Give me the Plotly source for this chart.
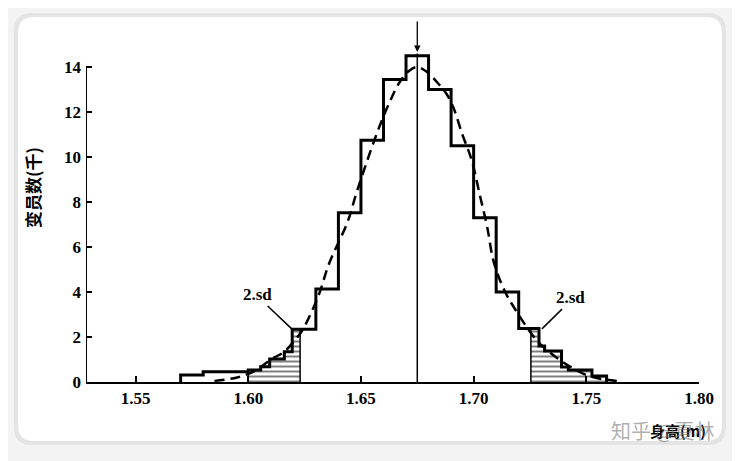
import plotly.graph_objects as go

# histogram outline: bin edges (m) and heights (thousands)
bin_edges = [1.570, 1.580, 1.600, 1.6055, 1.6095, 1.616, 1.6195, 1.630, 1.640,
             1.650, 1.660, 1.670, 1.680, 1.690, 1.700, 1.710, 1.720, 1.729,
             1.7315, 1.739, 1.742, 1.7525, 1.759]
bin_heights = [0.31, 0.46, 0.53, 0.68, 1.02, 1.35, 2.34, 4.13, 7.52, 10.75,
               13.45, 14.5, 13.0, 10.5, 7.3, 4.0, 2.38, 1.6, 1.38, 0.67, 0.53,
               0.27]

# shaded tails beyond 2 sd
low_cut = 1.623
low_start = 1.600
high_cut = 1.7254

# dashed normal curve
curve_x = [1.585, 1.595, 1.603, 1.610, 1.616, 1.621, 1.624, 1.631, 1.636,
           1.644, 1.648, 1.653, 1.658, 1.663, 1.667, 1.671, 1.675, 1.679,
           1.684, 1.688, 1.691, 1.695, 1.699, 1.703, 1.706, 1.709, 1.714,
           1.718, 1.726, 1.731, 1.737, 1.743, 1.750, 1.757, 1.765]
curve_y = [0.05, 0.2, 0.5, 1.0, 1.35, 1.9, 2.3, 3.8, 5.3, 7.1, 8.4, 9.9,
           11.3, 12.5, 13.3, 13.8, 14.0, 13.8, 13.3, 12.8, 12.2, 11.0, 9.9,
           8.2, 6.9, 5.3, 4.0, 3.3, 2.1, 1.55, 1.07, 0.67, 0.31, 0.13, 0.03]

mean_height = 1.675
x_ticks = [1.55, 1.60, 1.65, 1.70, 1.75, 1.80]
y_ticks = [0, 2, 4, 6, 8, 10, 12, 14]

# the page puts the figure 8px in from the top-left corner
OFF = 8
W, H = 740, 461
L, R, T, B = 86 - OFF, 41 + OFF, 49 - OFF, 79 + OFF
PW, PH = W - L - R, H - T - B


def paper(xp, yp):
    return (xp - OFF - L) / PW, (H - B - (yp - OFF)) / PH


def rounded_rect(x0, y0, x1, y1, r):
    pts = []
    pts.append("M %f,%f" % paper(x0 + r, y0))
    pts.append("L %f,%f" % paper(x1 - r, y0))
    pts.append("Q %f,%f %f,%f" % (paper(x1, y0) + paper(x1, y0 + r)))
    pts.append("L %f,%f" % paper(x1, y1 - r))
    pts.append("Q %f,%f %f,%f" % (paper(x1, y1) + paper(x1 - r, y1)))
    pts.append("L %f,%f" % paper(x0 + r, y1))
    pts.append("Q %f,%f %f,%f" % (paper(x0, y1) + paper(x0, y1 - r)))
    pts.append("L %f,%f" % paper(x0, y0 + r))
    pts.append("Q %f,%f %f,%f" % (paper(x0, y0) + paper(x0 + r, y0)))
    pts.append("Z")
    return " ".join(pts)


fig = go.Figure()

stripe = dict(shape="-", size=5, solidity=0.4, fgcolor="black", bgcolor="white")

# hatched tails
for lo, hi in [(low_start, low_cut), (high_cut, 1.80)]:
    sx, sy = [], []
    for i, h in enumerate(bin_heights):
        a, b = max(bin_edges[i], lo), min(bin_edges[i + 1], hi)
        if b > a:
            sx.append(a)
            sy.append(h)
    end = min(bin_edges[-1], hi)
    fig.add_trace(go.Scatter(
        x=[sx[0]] + sx + [end, end],
        y=[0] + sy + [sy[-1], 0],
        mode="lines",
        line=dict(color="black", width=1.5, shape="hv"),
        fill="tozeroy",
        fillcolor="white",
        fillpattern=stripe,
        hoverinfo="skip",
        showlegend=False
    ))

# histogram outline
fig.add_trace(go.Scatter(
    x=[bin_edges[0]] + bin_edges,
    y=[0] + bin_heights + [0],
    mode="lines",
    line=dict(color="black", width=3, shape="hv"),
    showlegend=False
))

# normal curve
fig.add_trace(go.Scatter(
    x=curve_x,
    y=curve_y,
    mode="lines",
    line=dict(color="black", width=2.5, dash="10px,6px", shape="spline"),
    showlegend=False
))

# mean line
fig.add_trace(go.Scatter(
    x=[mean_height, mean_height],
    y=[0, 14.6],
    mode="lines",
    line=dict(color="black", width=1.5),
    showlegend=False
))

shapes = [
    dict(type="path", xref="paper", yref="paper", layer="below",
         path=rounded_rect(14, 13, 726, 445, 18),
         fillcolor="#e4e4e4", line=dict(width=0)),
    dict(type="path", xref="paper", yref="paper", layer="below",
         path=rounded_rect(18, 17, 722, 441, 16),
         fillcolor="white", line=dict(width=0)),
    # y axis line
    dict(type="line", xref="x", yref="y", x0=1.528, x1=1.528, y0=0, y1=14,
         line=dict(color="black", width=2)),
    # 2.sd pointers
    dict(type="line", xref="x", yref="y", x0=1.6086, y0=3.38, x1=1.6193,
         y1=2.36, line=dict(color="black", width=1.5)),
    dict(type="line", xref="x", yref="y", x0=1.7392, y0=3.24, x1=1.7303,
         y1=2.36, line=dict(color="black", width=1.5)),
]

serif = dict(family="Liberation Serif", size=17, color="black", weight="bold")

annotations = [
    dict(x=1.6042, y=3.91, xref="x", yref="y", text="2.sd", showarrow=False,
         font=serif),
    dict(x=1.7432, y=3.75, xref="x", yref="y", text="2.sd", showarrow=False,
         font=serif),
    dict(x=mean_height, y=14.67, xref="x", yref="y", ax=0, ay=-32,
         showarrow=True, arrowhead=2, arrowsize=1, arrowwidth=1.3,
         arrowcolor="black", text=""),
    dict(x=32, y=188, xref="paper", yref="paper", text="变员数(千)",
         textangle=-90, showarrow=False, xanchor="center", yanchor="middle",
         font=dict(family="Noto Sans CJK SC", size=17, color="black",
                   weight="bold")),
    dict(x=648, y=431, xref="paper", yref="paper", text="身高(m)",
         xanchor="left", yanchor="middle", showarrow=False,
         font=dict(family="Noto Sans CJK SC", size=15, color="black",
                   weight="bold")),
    dict(x=662, y=431, xref="paper", yref="paper", text="知乎 @夏林",
         showarrow=False, xanchor="center", yanchor="middle",
         font=dict(family="Noto Sans CJK SC", size=20,
                   color="rgba(120,120,120,0.6)")),
]

for a in annotations:
    if a["xref"] == "paper":
        a["x"], a["y"] = paper(a["x"], a["y"])

fig.update_layout(
    width=W,
    height=H,
    margin=dict(l=L, r=R, t=T, b=B),
    paper_bgcolor="#f3f3f3",
    plot_bgcolor="white",
    shapes=shapes,
    annotations=annotations,
    showlegend=False
)

fig.update_xaxes(
    range=[1.528, 1.80],
    tickvals=x_ticks,
    ticktext=["%.2f" % v for v in x_ticks],
    ticks="inside",
    ticklen=6,
    tickwidth=2,
    tickcolor="black",
    showline=True,
    linecolor="black",
    linewidth=2,
    showgrid=False,
    zeroline=False,
    ticklabelstandoff=0,
    tickfont=serif
)

fig.update_yaxes(
    range=[0, PH / 22.5],
    tickvals=y_ticks,
    ticks="inside",
    ticklen=6,
    tickwidth=2,
    tickcolor="black",
    showline=False,
    showgrid=False,
    zeroline=False,
    ticklabelstandoff=4,
    tickfont=serif
)

fig.write_html("out.html")
